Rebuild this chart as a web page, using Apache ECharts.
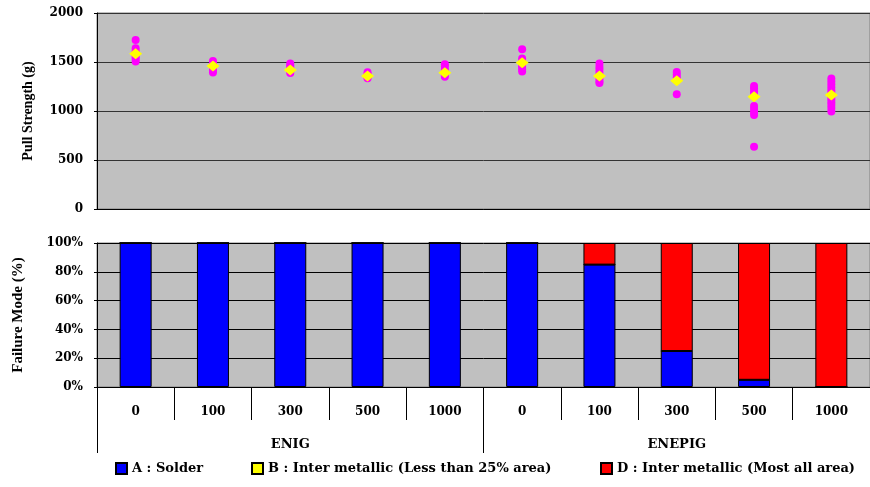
<!DOCTYPE html>
<html>
<head>
<meta charset="utf-8">
<script src="https://cdn.jsdelivr.net/npm/echarts@6/dist/echarts.min.js"></script>
<style>
  html, body { margin: 0; padding: 0; background: #fff; }
  #chart { width: 870px; height: 487px; }
</style>
</head>
<body>
<div id="chart"></div>
<script>
// aging time per finish
var categories = ['0', '100', '300', '500', '1000', '0', '100', '300', '500', '1000'];
var finishes = ['ENIG', 'ENEPIG'];

// pull strength readings (g), one list per category
var pullValues = [
  [1724, 1640, 1610, 1590, 1570, 1550, 1530, 1505],
  [1510, 1490, 1470, 1450, 1430, 1410, 1392],
  [1484, 1465, 1445, 1425, 1405, 1387],
  [1395, 1375, 1360, 1345, 1335],
  [1477, 1455, 1420, 1400, 1380, 1365, 1350],
  [1629, 1535, 1510, 1490, 1470, 1450, 1425, 1403],
  [1484, 1450, 1420, 1390, 1360, 1330, 1300, 1285],
  [1397, 1370, 1345, 1320, 1170],
  [1255, 1230, 1200, 1170, 1150, 1050, 1020, 990, 960, 635],
  [1331, 1300, 1270, 1240, 1210, 1180, 1150, 1120, 1090, 1060, 1030, 995]
];
var pullMeans = [1585, 1459, 1418, 1357, 1390, 1493, 1357, 1309, 1146, 1163];

// failure mode share (%)
var solderPct = [100, 100, 100, 100, 100, 100, 85, 25, 5, 0];
var imcLessPct = [0, 0, 0, 0, 0, 0, 0, 0, 0, 0];
var imcMostPct = [0, 0, 0, 0, 0, 0, 15, 75, 95, 100];

var serif = 'DejaVu Serif';
var nameFont = 'Liberation Serif';

var points = [];
pullValues.forEach(function (list, i) {
  list.forEach(function (v) { points.push([i, v]); });
});
var means = pullMeans.map(function (v, i) { return [i, v]; });

var chart = echarts.init(document.getElementById('chart'));

var labelStyle = { color: '#000', fontFamily: serif, fontWeight: 'bold', fontSize: 12 };

var option = {
  animation: false,
  backgroundColor: '#fff',
  grid: [
    { left: 97, top: 13, width: 773, height: 196, show: true, backgroundColor: '#C0C0C0', borderColor: '#808080', borderWidth: 1 },
    { left: 97, top: 243, width: 773, height: 144, show: true, backgroundColor: '#C0C0C0', borderColor: '#808080', borderWidth: 1 }
  ],
  legend: [
    { data: ['A : Solder'], left: 115, top: 462 },
    { data: ['B : Inter metallic (Less than 25% area)'], left: 251, top: 462 },
    { data: ['D : Inter metallic (Most all area)'], left: 600, top: 462 }
  ].map(function (l) {
    l.itemWidth = 11;
    l.itemHeight = 11;
    l.icon = 'rect';
    l.padding = 0;
    l.textStyle = { color: '#000', fontFamily: serif, fontWeight: 'bold', fontSize: 13 };
    return l;
  }),
  xAxis: [
    {
      gridIndex: 0, type: 'category', data: categories,
      axisLabel: { show: false }, axisTick: { show: false },
      axisLine: { show: true, lineStyle: { color: '#000' } }
    },
    {
      gridIndex: 1, type: 'category', data: categories, position: 'bottom',
      axisLine: { show: true, lineStyle: { color: '#000' } },
      axisTick: { show: true, interval: 0, length: 33, lineStyle: { color: '#000' } },
      axisLabel: Object.assign({ margin: 19, interval: 0 }, labelStyle)
    },
    {
      gridIndex: 1, type: 'category', data: finishes, position: 'bottom',
      axisLine: { show: false },
      axisTick: { show: true, interval: 0, length: 66, lineStyle: { color: '#000' } },
      axisLabel: Object.assign({ margin: 51, interval: 0 }, labelStyle, { fontSize: 13 })
    }
  ],
  yAxis: [
    {
      gridIndex: 0, type: 'value', min: 0, max: 2000, interval: 500,
      name: 'Pull Strength (g)', nameLocation: 'middle', nameGap: 62,
      nameTextStyle: { color: '#000', fontFamily: nameFont, fontWeight: 'bold', fontSize: 14 },
      axisLine: { show: true, lineStyle: { color: '#000' } },
      axisTick: { show: true, length: 3, lineStyle: { color: '#000' } },
      axisLabel: Object.assign({ margin: 14, formatter: function (v) { return String(v); } }, labelStyle),
      splitLine: { show: true, lineStyle: { color: '#333', width: 1 } }
    },
    {
      gridIndex: 1, type: 'value', min: 0, max: 100, interval: 20,
      name: 'Failure Mode (%)', nameLocation: 'middle', nameGap: 71,
      nameTextStyle: { color: '#000', fontFamily: nameFont, fontWeight: 'bold', fontSize: 15 },
      axisLine: { show: true, lineStyle: { color: '#000' } },
      axisTick: { show: true, length: 3, lineStyle: { color: '#000' } },
      axisLabel: Object.assign({ margin: 14, formatter: '{value}%' }, labelStyle),
      splitLine: { show: true, lineStyle: { color: '#000', width: 1 } }
    }
  ],
  series: [
    {
      name: 'Pull', type: 'scatter', xAxisIndex: 0, yAxisIndex: 0,
      data: points, symbolSize: 8, itemStyle: { color: '#FF00FF', opacity: 1 }
    },
    {
      name: 'Mean', type: 'scatter', xAxisIndex: 0, yAxisIndex: 0,
      data: means, symbol: 'diamond', symbolSize: [13, 11], itemStyle: { color: '#FFFF00', opacity: 1 }
    },
    {
      name: 'A : Solder', type: 'bar', xAxisIndex: 1, yAxisIndex: 1, stack: 'fm',
      data: solderPct, barWidth: 32,
      itemStyle: { color: '#0000FF', borderColor: '#000', borderWidth: 1 }
    },
    {
      name: 'B : Inter metallic (Less than 25% area)', type: 'bar', xAxisIndex: 1, yAxisIndex: 1, stack: 'fm',
      data: imcLessPct, barWidth: 32,
      itemStyle: { color: '#FFFF00', borderColor: '#000', borderWidth: 1 }
    },
    {
      name: 'D : Inter metallic (Most all area)', type: 'bar', xAxisIndex: 1, yAxisIndex: 1, stack: 'fm',
      data: imcMostPct, barWidth: 32,
      itemStyle: { color: '#FF0000', borderColor: '#000', borderWidth: 1 }
    }
  ]
};

chart.setOption(option);
</script>
</body>
</html>
